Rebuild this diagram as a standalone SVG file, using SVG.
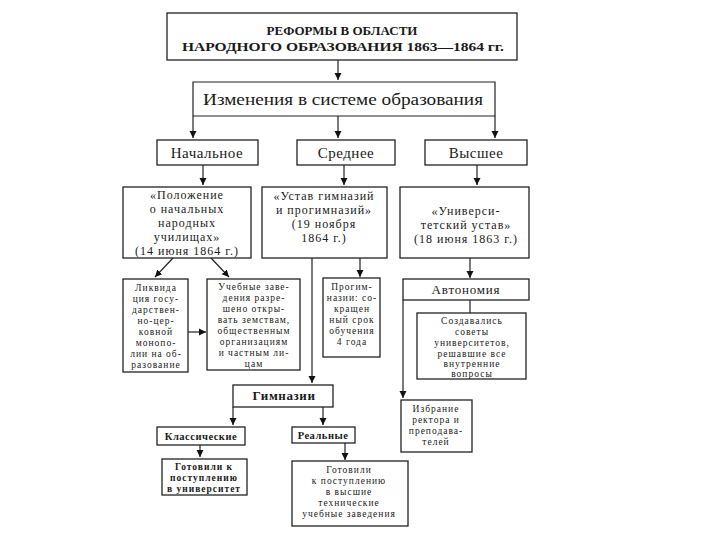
<svg xmlns="http://www.w3.org/2000/svg" width="720" height="540" viewBox="0 0 720 540">
<defs>
<marker id="ah" markerWidth="8" markerHeight="8" refX="7" refY="4" orient="auto" markerUnits="userSpaceOnUse">
<path d="M0,0.5 L7,4 L0,7.5 z" fill="#111"/>
</marker>
<style>
.b{fill:#fff;stroke:#222;stroke-width:1.3}
.c{fill:none;stroke:#222;stroke-width:1.2}
.t{font-family:"Liberation Serif","DejaVu Serif",serif;fill:#1a1a1a;text-anchor:middle}
.s{font-size:9.5px;letter-spacing:1px}
.m{font-size:12px;letter-spacing:1px}
.bd{font-weight:bold}
</style>
</defs>
<rect width="720" height="540" fill="#fff"/>
<g id="connectors">
<path class="c" d="M338,60 V80" marker-end="url(#ah)"/>
<path class="c" d="M193,116 V138" marker-end="url(#ah)"/>
<path class="c" d="M338,116 V138" marker-end="url(#ah)"/>
<path class="c" d="M495,116 V138" marker-end="url(#ah)"/>
<path class="c" d="M203,165 V185" marker-end="url(#ah)"/>
<path class="c" d="M344,165 V185" marker-end="url(#ah)"/>
<path class="c" d="M477,165 V185" marker-end="url(#ah)"/>
<path class="c" d="M173,258 L155,277" marker-end="url(#ah)"/>
<path class="c" d="M211,258 L229,277" marker-end="url(#ah)"/>
<path class="c" d="M188,332 H206" marker-end="url(#ah)"/>
<path class="c" d="M360,258 V277" marker-end="url(#ah)"/>
<path class="c" d="M312,258 V383" marker-end="url(#ah)"/>
<path class="c" d="M470,258 V278" marker-end="url(#ah)"/>
<path class="c" d="M470,300 V313"/>
<path class="c" d="M403,300 V398" marker-end="url(#ah)"/>
<path class="c" d="M233,407 V425" marker-end="url(#ah)"/>
<path class="c" d="M323,407 V425" marker-end="url(#ah)"/>
<path class="c" d="M200,445 V457" marker-end="url(#ah)"/>
<path class="c" d="M345,443 V460" marker-end="url(#ah)"/>
</g>
<g id="title">
<rect class="b" x="167" y="13" width="350" height="47"/>
<text class="t bd" x="342" y="35" font-size="13">РЕФОРМЫ В ОБЛАСТИ</text>
<text class="t bd" x="343" y="51" font-size="13" textLength="322" lengthAdjust="spacingAndGlyphs">НАРОДНОГО ОБРАЗОВАНИЯ 1863—1864 гг.</text>
</g>
<g id="changes">
<path class="c" d="M193,116 V82 H495 V116 H193"/>
<text class="t" x="343" y="105" font-size="16" textLength="280" lengthAdjust="spacingAndGlyphs">Изменения в системе образования</text>
</g>
<g id="primary">
<rect class="b" x="157" y="140" width="101" height="25"/>
<text class="t" x="207" y="158" font-size="15" letter-spacing="0.5">Начальное</text>
</g>
<g id="secondary">
<rect class="b" x="297" y="140" width="98" height="25"/>
<text class="t" x="346" y="158" font-size="15" letter-spacing="0.5">Среднее</text>
</g>
<g id="higher">
<rect class="b" x="425" y="140" width="102" height="25"/>
<text class="t" x="476" y="158" font-size="15" letter-spacing="0.5">Высшее</text>
</g>
<g id="polozhenie">
<rect class="b" x="123" y="187" width="128" height="71"/>
<text class="t m" x="187" y="199">«Положение</text>
<text class="t m" x="187" y="213">о начальных</text>
<text class="t m" x="187" y="227">народных</text>
<text class="t m" x="187" y="241">училищах»</text>
<text class="t m" x="187" y="255">(14 июня 1864 г.)</text>
</g>
<g id="ustav">
<rect class="b" x="262" y="187" width="125" height="71"/>
<text class="t m" x="324" y="200">«Устав гимназий</text>
<text class="t m" x="324" y="214">и прогимназий»</text>
<text class="t m" x="324" y="228">(19 ноября</text>
<text class="t m" x="324" y="242">1864 г.)</text>
</g>
<g id="university">
<rect class="b" x="400" y="187" width="129" height="71"/>
<text class="t m" x="466" y="215">«Универси-</text>
<text class="t m" x="466" y="229">тетский устав»</text>
<text class="t m" x="466" y="243">(18 июня 1863 г.)</text>
</g>
<g id="liquidation">
<rect class="b" x="123" y="279" width="65" height="93"/>
<text class="t s" x="156" y="291">Ликвида</text>
<text class="t s" x="156" y="302">ция госу-</text>
<text class="t s" x="156" y="313">дарствен-</text>
<text class="t s" x="156" y="324">но-цер-</text>
<text class="t s" x="156" y="335">ковной</text>
<text class="t s" x="156" y="346">монопо-</text>
<text class="t s" x="156" y="357">лии на об-</text>
<text class="t s" x="156" y="368">разование</text>
</g>
<g id="institutions">
<rect class="b" x="207" y="279" width="93" height="91"/>
<text class="t s" x="254" y="290">Учебные заве-</text>
<text class="t s" x="254" y="301">дения разре-</text>
<text class="t s" x="254" y="312">шено откры-</text>
<text class="t s" x="254" y="323">вать земствам,</text>
<text class="t s" x="254" y="334">общественным</text>
<text class="t s" x="254" y="345">организациям</text>
<text class="t s" x="254" y="356">и частным ли-</text>
<text class="t s" x="254" y="367">цам</text>
</g>
<g id="progymnasium">
<rect class="b" x="323" y="278" width="57" height="79"/>
<text class="t s" x="352" y="290">Прогим-</text>
<text class="t s" x="352" y="301">назии: со-</text>
<text class="t s" x="352" y="312">кращен</text>
<text class="t s" x="352" y="323">ный срок</text>
<text class="t s" x="352" y="334">обучения</text>
<text class="t s" x="352" y="345">4 года</text>
</g>
<g id="autonomy">
<rect class="b" x="403" y="279" width="126" height="21"/>
<text class="t" x="466" y="294" font-size="13" letter-spacing="0.8">Автономия</text>
</g>
<g id="councils">
<rect class="b" x="417" y="313" width="109" height="66"/>
<text class="t s" x="472" y="324">Создавались</text>
<text class="t s" x="472" y="335">советы</text>
<text class="t s" x="472" y="346">университетов,</text>
<text class="t s" x="472" y="357">решавшие все</text>
<text class="t s" x="472" y="367">внутренние</text>
<text class="t s" x="472" y="377">вопросы</text>
</g>
<g id="election">
<rect class="b" x="401" y="400" width="71" height="52"/>
<text class="t s" x="436" y="412">Избрание</text>
<text class="t s" x="436" y="423">ректора и</text>
<text class="t s" x="436" y="434">преподава-</text>
<text class="t s" x="436" y="445">телей</text>
</g>
<g id="gymnasiums">
<rect class="b" x="233" y="385" width="100" height="22"/>
<text class="t bd" x="284" y="400" font-size="13" letter-spacing="0.6">Гимназии</text>
</g>
<g id="classical">
<rect class="b" x="157" y="427" width="88" height="18"/>
<text class="t bd" x="201" y="440" font-size="10.5" letter-spacing="0.5">Классические</text>
</g>
<g id="real">
<rect class="b" x="292" y="427" width="63" height="16"/>
<text class="t bd" x="323" y="439" font-size="10.5" letter-spacing="0.5">Реальные</text>
</g>
<g id="prep-university">
<rect class="b" x="162" y="459" width="85" height="36"/>
<text class="t s bd" x="204" y="470">Готовили к</text>
<text class="t s bd" x="204" y="481">поступлению</text>
<text class="t s bd" x="204" y="492">в университет</text>
</g>
<g id="prep-technical">
<rect class="b" x="292" y="461" width="116" height="65"/>
<text class="t s" x="349" y="473">Готовили</text>
<text class="t s" x="349" y="484">к поступлению</text>
<text class="t s" x="349" y="495">в высшие</text>
<text class="t s" x="349" y="506">технические</text>
<text class="t s" x="349" y="517">учебные заведения</text>
</g>
</svg>
